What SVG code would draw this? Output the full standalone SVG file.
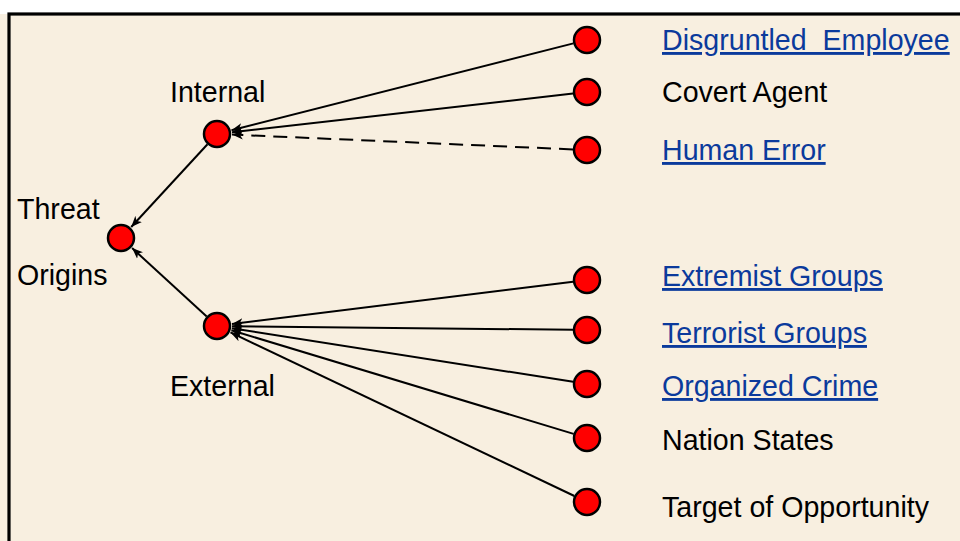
<svg xmlns="http://www.w3.org/2000/svg" width="960" height="541" viewBox="0 0 960 541">
  <style>
    .lbl { font-family: "Liberation Sans", Arial, sans-serif; font-size: 28.6px; fill: #000000; }
    .link { fill: #0B3A9C; text-decoration: underline; }
    .node { fill: #FF0000; stroke: #000000; stroke-width: 2.5; }
    .edge { stroke: #000000; stroke-width: 2; fill: none; marker-end: url(#arrow); }
    .dash { stroke-dasharray: 14 8; }
  </style>
  <defs>
    <marker id="arrow" markerUnits="userSpaceOnUse" markerWidth="12" markerHeight="10" refX="11" refY="5" orient="auto">
      <path d="M0,0.5 L11,5 L0,9.5 L3,5 z" fill="#000000"/>
    </marker>
  </defs>

  <!-- page and framed panel -->
  <rect x="0" y="0" width="960" height="541" fill="#FFFFFF"/>
  <rect x="0" y="14" width="960" height="527" fill="#F8EFE0"/>
  <rect x="9" y="14" width="1000" height="600" fill="#F8EFE0" stroke="#000000" stroke-width="3.2"/>

  <!-- connectors -->
  <g id="connectors">
    <line class="edge" x1="573.4" y1="43.4" x2="231.5" y2="130.3"/>
    <line class="edge" x1="573.1" y1="93.6" x2="231.9" y2="132.3"/>
    <line class="edge dash" x1="573" y1="149.4" x2="232" y2="134.6"/>
    <line class="edge" x1="573.1" y1="281.7" x2="231.9" y2="324.1"/>
    <line class="edge" x1="573" y1="329.8" x2="232" y2="326.2"/>
    <line class="edge" x1="573.2" y1="381.8" x2="231.8" y2="328.3"/>
    <line class="edge" x1="573.6" y1="433.9" x2="231.4" y2="330.3"/>
    <line class="edge" x1="574.4" y1="496" x2="230.5" y2="332.4"/>
    <line class="edge" x1="207.5" y1="144.3" x2="131.2" y2="227"/>
    <line class="edge" x1="206.7" y1="316.5" x2="132.1" y2="248.1"/>
  </g>

  <g id="threat-origins">
    <circle class="node" cx="121" cy="238" r="13"/>
    <text class="lbl" x="17" y="219">Threat</text>
    <text class="lbl" x="17" y="285">Origins</text>
  </g>
  <g id="internal">
    <circle class="node" cx="217" cy="134" r="13"/>
    <text class="lbl" x="170" y="102">Internal</text>
  </g>
  <g id="external">
    <circle class="node" cx="217" cy="326" r="13"/>
    <text class="lbl" x="170" y="396">External</text>
  </g>

  <g id="disgruntled-employee">
    <circle class="node" cx="587" cy="40" r="13"/>
    <text class="lbl link" x="662" y="50" xml:space="preserve">Disgruntled  Employee</text>
  </g>
  <g id="covert-agent">
    <circle class="node" cx="587" cy="92" r="13"/>
    <text class="lbl" x="662" y="102">Covert Agent</text>
  </g>
  <g id="human-error">
    <circle class="node" cx="587" cy="150" r="13"/>
    <text class="lbl link" x="662" y="160">Human Error</text>
  </g>
  <g id="extremist-groups">
    <circle class="node" cx="587" cy="280" r="13"/>
    <text class="lbl link" x="662" y="286">Extremist Groups</text>
  </g>
  <g id="terrorist-groups">
    <circle class="node" cx="587" cy="330" r="13"/>
    <text class="lbl link" x="662" y="343">Terrorist Groups</text>
  </g>
  <g id="organized-crime">
    <circle class="node" cx="587" cy="384" r="13"/>
    <text class="lbl link" x="662" y="396">Organized Crime</text>
  </g>
  <g id="nation-states">
    <circle class="node" cx="587" cy="438" r="13"/>
    <text class="lbl" x="662" y="450">Nation States</text>
  </g>
  <g id="target-of-opportunity">
    <circle class="node" cx="587" cy="502" r="13"/>
    <text class="lbl" x="662" y="517">Target of Opportunity</text>
  </g>
</svg>
